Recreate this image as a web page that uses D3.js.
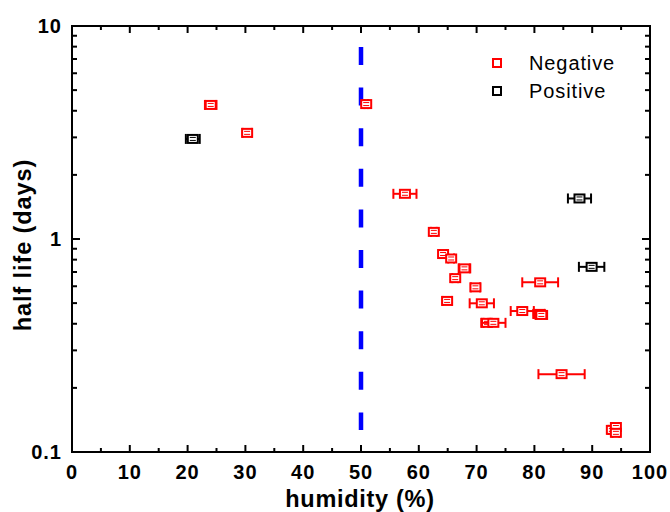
<!DOCTYPE html>
<html>
<head>
<meta charset="utf-8">
<script src="https://d3js.org/d3.v7.min.js"></script>
<style>
  body { margin: 0; background: #fff; }
  text { font-family: "Liberation Sans", Arial, sans-serif; }
</style>
</head>
<body>
<svg width="670" height="512"></svg>
<script>
// humidity (%), half life (days), x error (+/-)
var negHumidity = [24, 30.3, 50.9, 57.6, 62.6, 64.2, 65.6, 67.9, 66.3, 69.8, 64.9, 70.9, 71.8, 72.9, 77.9, 80.8, 81.2, 81, 84.7, 93.4, 94.1, 94.1];
var negHalfLife = [4.26, 3.15, 4.3, 1.63, 1.08, 0.85, 0.81, 0.728, 0.655, 0.593, 0.512, 0.499, 0.404, 0.404, 0.459, 0.445, 0.44, 0.626, 0.232, 0.127, 0.131, 0.123];
var negErr      = [1, 0.8, 0.3, 2, 0.5, 0.6, 0.5, 1, 0.5, 0.8, 0.8, 2.1, 0.6, 2.1, 2, 1, 1, 3.1, 4, 0.6, 0.6, 0.6];

var posHumidity = [20.9, 87.8, 89.9];
var posHalfLife = [2.95, 1.55, 0.74];
var posErr      = [1.2, 2, 2.2];

var xTicks = [0, 10, 20, 30, 40, 50, 60, 70, 80, 90, 100];
var yTicks = [0.1, 1, 10];
var threshold = 50;

var svg = d3.select("svg"),
    width = +svg.attr("width"),
    height = +svg.attr("height");

var pLeft = 72, pRight = 650, pTop = 26, pBottom = 452;

var x = d3.scaleLinear().domain([0, 100]).range([pLeft, pRight]);
var y = d3.scaleLog().domain([0.1, 10]).range([pBottom, pTop]);

var minorX = d3.range(5, 100, 10);
var minorY = [];
[0.1, 1].forEach(function(d) { for (var k = 2; k < 10; k++) minorY.push(d * k); });

var g = svg.append("g");

// dashed threshold line
g.append("line")
  .attr("x1", x(threshold)).attr("x2", x(threshold))
  .attr("y1", 47).attr("y2", 430)
  .attr("stroke", "#0000ff")
  .attr("stroke-width", 4.5)
  .attr("stroke-dasharray", "18,22.6");

// frame
g.append("rect")
  .attr("x", pLeft).attr("y", pTop)
  .attr("width", pRight - pLeft).attr("height", pBottom - pTop)
  .attr("fill", "none").attr("stroke", "#000").attr("stroke-width", 2);

// ticks, all pointing inward, on all four sides
function xtick(v, len) {
  g.append("line").attr("x1", x(v)).attr("x2", x(v)).attr("y1", pBottom).attr("y2", pBottom - len).attr("stroke", "#000").attr("stroke-width", 2);
  g.append("line").attr("x1", x(v)).attr("x2", x(v)).attr("y1", pTop).attr("y2", pTop + len).attr("stroke", "#000").attr("stroke-width", 2);
}
function ytick(v, len) {
  g.append("line").attr("x1", pLeft).attr("x2", pLeft + len).attr("y1", y(v)).attr("y2", y(v)).attr("stroke", "#000").attr("stroke-width", 2);
  g.append("line").attr("x1", pRight).attr("x2", pRight - len).attr("y1", y(v)).attr("y2", y(v)).attr("stroke", "#000").attr("stroke-width", 2);
}
xTicks.forEach(function(d) { xtick(d, 7); });
minorX.forEach(function(d) { xtick(d, 4); });
yTicks.forEach(function(d) { ytick(d, 8); });
minorY.forEach(function(d) { ytick(d, 5); });

// tick labels
g.selectAll(".xl").data(xTicks).enter().append("text")
  .attr("x", function(d) { return x(d); })
  .attr("y", pBottom + 27)
  .attr("text-anchor", "middle")
  .style("font-size", "20px").style("font-weight", "bold")
  .style("letter-spacing", "1px")
  .text(function(d) { return d; });

g.selectAll(".yl").data(yTicks).enter().append("text")
  .attr("x", pLeft - 10)
  .attr("y", function(d) { return y(d) + 7; })
  .attr("text-anchor", "end")
  .style("font-size", "20px").style("font-weight", "bold")
  .style("letter-spacing", "1px")
  .text(function(d) { return d; });

// axis titles
svg.append("text")
  .attr("x", 360)
  .attr("y", 507)
  .attr("text-anchor", "middle")
  .style("font-size", "23.5px").style("font-weight", "bold")
  .style("letter-spacing", "0.7px")
  .text("humidity (%)");

svg.append("text")
  .attr("transform", "translate(31,245) rotate(-90)")
  .attr("text-anchor", "middle")
  .style("font-size", "23.5px").style("font-weight", "bold")
  .style("letter-spacing", "0.9px")
  .text("half life (days)");

// points with horizontal error bars
function drawSeries(xs, ys, es, color) {
  var data = xs.map(function(d, i) { return { h: d, t: ys[i], e: es[i] }; });
  var pt = g.append("g").selectAll("g").data(data).enter().append("g")
    .attr("transform", function(d) { return "translate(" + x(d.h) + "," + y(d.t) + ")"; });

  pt.append("line")
    .attr("x1", function(d) { return x(d.h - d.e) - x(d.h); })
    .attr("x2", function(d) { return x(d.h + d.e) - x(d.h); })
    .attr("stroke", color).attr("stroke-width", 2);
  pt.append("line")
    .attr("x1", function(d) { return x(d.h - d.e) - x(d.h); })
    .attr("x2", function(d) { return x(d.h - d.e) - x(d.h); })
    .attr("y1", -5).attr("y2", 5)
    .attr("stroke", color).attr("stroke-width", 2);
  pt.append("line")
    .attr("x1", function(d) { return x(d.h + d.e) - x(d.h); })
    .attr("x2", function(d) { return x(d.h + d.e) - x(d.h); })
    .attr("y1", -5).attr("y2", 5)
    .attr("stroke", color).attr("stroke-width", 2);
  pt.append("rect")
    .attr("x", -5).attr("y", -4)
    .attr("width", 10).attr("height", 8)
    .attr("fill", "#fff").attr("stroke", color).attr("stroke-width", 2);
  // tiny vertical error caps inside the marker
  pt.append("line").attr("x1", -3).attr("x2", 3).attr("y1", -1.5).attr("y2", -1.5).attr("stroke", color).attr("stroke-width", 1);
  pt.append("line").attr("x1", -3).attr("x2", 3).attr("y1", 1.5).attr("y2", 1.5).attr("stroke", color).attr("stroke-width", 1);
}

drawSeries(negHumidity, negHalfLife, negErr, "#ff0000");
drawSeries(posHumidity, posHalfLife, posErr, "#000000");

// legend
var legend = svg.append("g").attr("transform", "translate(497,63)");
[["Negative", "#ff0000"], ["Positive", "#000000"]].forEach(function(d, i) {
  legend.append("rect")
    .attr("x", -4).attr("y", i * 28 - 4)
    .attr("width", 8).attr("height", 8)
    .attr("fill", "#fff").attr("stroke", d[1]).attr("stroke-width", 2);
  legend.append("text")
    .attr("x", 32).attr("y", i * 28 + 7)
    .style("font-size", "20px")
    .style("letter-spacing", "0.9px")
    .text(d[0]);
});
</script>
</body>
</html>
